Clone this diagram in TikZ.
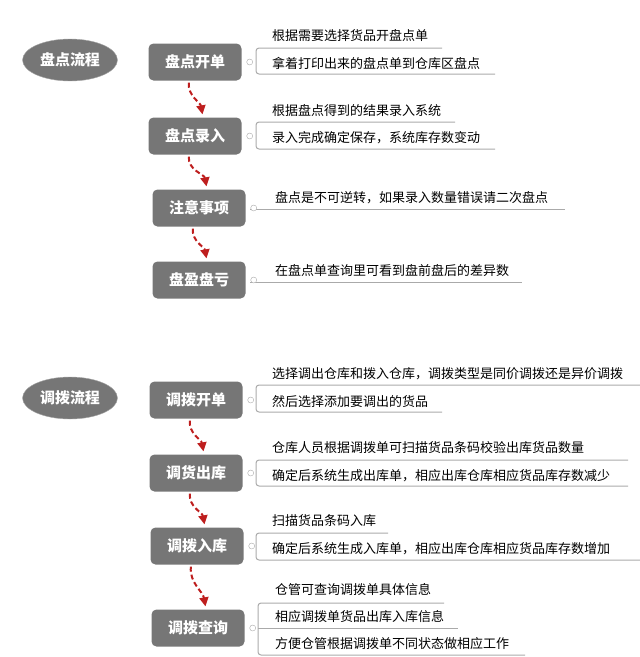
\documentclass[tikz,border=0pt]{standalone}
\usepackage{fontspec}
\setmainfont{Noto Sans CJK SC}
\usetikzlibrary{arrows.meta,positioning,shapes.geometric}
\definecolor{nodegray}{RGB}{118,118,118}
\definecolor{linegray}{RGB}{170,170,170}
\definecolor{flowred}{RGB}{190,30,30}
\tikzset{
  root/.style={ellipse,fill=nodegray,draw=linegray,minimum width=95pt,minimum height=42pt,
    text=white,font=\bfseries\fontsize{15}{15}\selectfont},
  stepbox/.style={rectangle,rounded corners=5pt,fill=nodegray,minimum width=93pt,minimum height=37pt,
    text=white,font=\bfseries\fontsize{15}{15}\selectfont},
  leaf/.style={anchor=base west,inner sep=0pt,font=\fontsize{13}{13}\selectfont},
  uline/.style={draw=linegray,line width=1pt},
  knob/.style={circle,draw=linegray,fill=white,inner sep=0pt,minimum size=6pt},
  flow/.style={draw=flowred,line width=2pt,dash pattern=on 5pt off 3pt,shorten >=3pt,shorten <=2pt,
    -{Triangle[length=9pt,width=9pt,sep=0pt]}},
}
\begin{document}
\begin{tikzpicture}[x=1pt,y=-1pt]
\useasboundingbox (0,0) rectangle (640,657);
% upper flow
\node[root] (pd) at (70,60) {盘点流程};
\node[stepbox] (pd1) at (195,62) {盘点开单};
\node[stepbox] (pd2) at (195,136) {盘点录入};
\node[stepbox] (pd3) at (199,208) {注意事项};
\node[stepbox] (pd4) at (199,280) {盘盈盘亏};
% lower flow
\node[root] (db) at (70,398) {调拨流程};
\node[stepbox] (db1) at (196,400) {调拨开单};
\node[stepbox] (db2) at (196,473) {调货出库};
\node[stepbox] (db3) at (197,546) {调拨入库};
\node[stepbox] (db4) at (198,628) {调拨查询};
% dashed links
\foreach \a/\b in {pd1/pd2,pd2/pd3,pd3/pd4,db1/db2,db2/db3,db3/db4}
  \draw[flow] ([xshift=-6pt]\a.south) to[out=-95,in=100] ([xshift=8pt]\b.north);
% leaves
\node[leaf] (a1) at (272,40) {根据需要选择货品开盘点单};
\node[leaf] (a2) at (272,68) {拿着打印出来的盘点单到仓库区盘点};
\node[leaf] (b1) at (272,115) {根据盘点得到的结果录入系统};
\node[leaf] (b2) at (272,142) {录入完成确定保存，系统库存数变动};
\node[leaf] (c1) at (275,202) {盘点是不可逆转，如果录入数量错误请二次盘点};
\node[leaf] (d1) at (275,275) {在盘点单查询里可看到盘前盘后的差异数};
\node[leaf] (e1) at (272,378) {选择调出仓库和拨入仓库，调拨类型是同价调拨还是异价调拨};
\node[leaf] (e2) at (272,406) {然后选择添加要调出的货品};
\node[leaf] (f1) at (272,452) {仓库人员根据调拨单可扫描货品条码校验出库货品数量};
\node[leaf] (f2) at (272,480) {确定后系统生成出库单，相应出库仓库相应货品库存数减少};
\node[leaf] (g1) at (272,525) {扫描货品条码入库};
\node[leaf] (g2) at (272,553) {确定后系统生成入库单，相应出库仓库相应货品库存数增加};
\node[leaf] (h1) at (275,594) {仓管可查询调拨单具体信息};
\node[leaf] (h2) at (275,621) {相应调拨单货品出库入库信息};
\node[leaf] (h3) at (275,648) {方便仓管根据调拨单不同状态做相应工作};
% brackets and underlines
\draw[uline,rounded corners=3pt] (442,48) -- (256,48) -- (256,74) -- (495,74);
\draw[uline,rounded corners=3pt] (455,122) -- (256,122) -- (256,149) -- (495,149);
\draw[uline] (250,209) -- (565,209);
\draw[uline] (250,282) -- (522,282);
\draw[uline,rounded corners=3pt] (640,385) -- (256,385) -- (256,412) -- (442,412);
\draw[uline,rounded corners=3pt] (628,460) -- (256,460) -- (256,486) -- (628,486);
\draw[uline,rounded corners=3pt] (388,533) -- (256,533) -- (256,560) -- (640,560);
\draw[uline,rounded corners=3pt] (444,603) -- (258,603) -- (258,655) -- (525,655);
\draw[uline] (258,628) -- (458,628);
% knobs
\foreach \n in {pd1,pd2,pd3,pd4,db1,db2,db3,db4}
  \node[knob] at ([xshift=8pt]\n.east) {};
\end{tikzpicture}
\end{document}
